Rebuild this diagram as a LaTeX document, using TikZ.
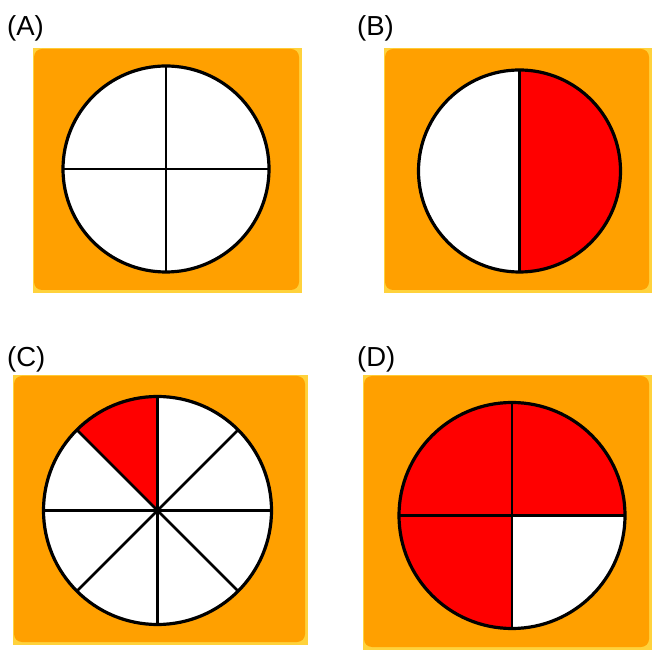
\documentclass[tikz,border=0pt]{standalone}
\usepackage{fontspec}
\setmainfont{Liberation Sans}
\usepackage{tikz}
\definecolor{card}{HTML}{FFA000}
\definecolor{rim}{HTML}{FFD23C}
\definecolor{part}{HTML}{FF0000}
\tikzset{
  lbl/.style={anchor=base west,inner sep=0pt,font=\fontsize{27.5}{32}\selectfont},
  outline/.style={line width=3.2pt},
  spoke/.style={line width=2.6pt}
}
\begin{document}
\begin{tikzpicture}[x=1pt,y=1pt]
\useasboundingbox (0,0) rectangle (652,650);
% cards
\foreach \xa/\ya/\xb/\yb in {33/357/302/602,384/357/652/602,13/5/308/275,363/0/652/275}{
  \fill[rim] (\xa,\ya) rectangle (\xb,\yb);
  \fill[card,rounded corners=8pt] (\xa+1,\ya+3) rectangle (\xb-3,\yb-1);
}
% circles: centre, radius, shaded arc, spokes
\foreach \cx/\cy/\r/\from/\to/\spokes in {166/481/103/0/0/{0,90,180,270},519.5/479/101/-90/90/{90,270},157.5/139.5/114/90/135/{0,45,90,135,180,225,270,315},512/134.5/113/0/270/{0,90,180,270}}{
  \coordinate (o) at (\cx,\cy);
  \fill[white] (o) circle (\r);
  \fill[part] (o) -- ++(\from:\r) arc[start angle=\from,end angle=\to,radius=\r] -- cycle;
  \foreach \s in \spokes \draw[spoke] (o) -- ++(\s:\r);
  \draw[outline] (o) circle (\r);
}
\node[lbl] (labA) at (7,614) {(A)};
\node[lbl] (labB) at (357,614) {(B)};
\node[lbl] (labC) at (7,283) {(C)};
\node[lbl] (labD) at (357,283) {(D)};
\end{tikzpicture}
\end{document}
